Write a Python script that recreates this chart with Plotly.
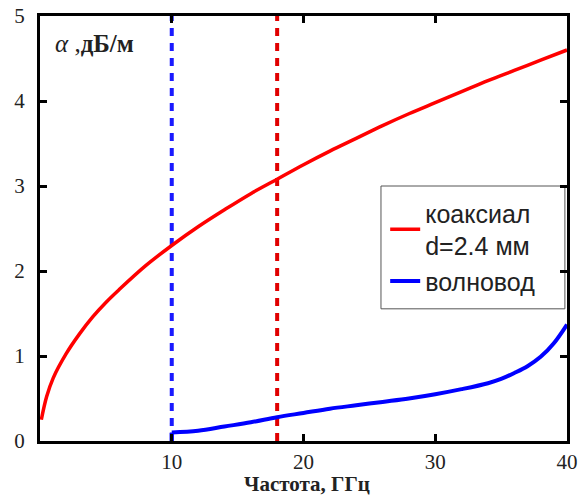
import plotly.graph_objects as go

# Coaxial line attenuation (red)
coax_f = [0.1, 0.5, 1, 2, 3, 4, 5, 6, 8, 10, 12, 14, 16, 18, 20, 22, 24, 26, 28, 30, 32, 34, 36, 38, 40]
coax_a = [0.25, 0.52, 0.74, 1.03, 1.26, 1.46, 1.63, 1.78, 2.06, 2.30, 2.52, 2.72, 2.91, 3.08, 3.25,
          3.41, 3.56, 3.71, 3.85, 3.98, 4.11, 4.24, 4.36, 4.48, 4.60]

# Waveguide attenuation (blue); first two points are the cutoff step at 10 GHz
wg_f = [10, 10, 12, 14, 16, 18, 20, 22, 24, 26, 28, 30, 32, 34, 35, 36, 37, 38, 39, 40]
wg_a = [0.0, 0.10, 0.12, 0.17, 0.22, 0.28, 0.33, 0.38, 0.42, 0.46, 0.50, 0.55, 0.61, 0.68,
        0.73, 0.80, 0.88, 0.99, 1.15, 1.37]

vlines = [10, 18]
vline_colors = ["#1a1aff", "#e00000"]
x_ticks = [10, 20, 30, 40]
y_ticks = [0, 1, 2, 3, 4, 5]

fig = go.Figure()
fig.add_trace(go.Scatter(x=coax_f, y=coax_a, mode="lines",
                         line=dict(color="#ff0000", width=3.5, shape="spline"),
                         name="коаксиал<br>d=2.4 мм"))
fig.add_trace(go.Scatter(x=wg_f[1:], y=wg_a[1:], mode="lines",
                         line=dict(color="#0000ff", width=4, shape="spline"),
                         name="волновод"))
fig.add_trace(go.Scatter(x=wg_f[:2], y=wg_a[:2], mode="lines",
                         line=dict(color="#0000ff", width=4), showlegend=False, hoverinfo="skip"))

for xv, c in zip(vlines, vline_colors):
    fig.add_shape(type="line", x0=xv, x1=xv, y0=0, y1=5, xref="x", yref="y",
                  line=dict(color=c, width=4, dash="8px,7px"), layer="below")

# legend frame
fig.add_shape(type="rect", xref="paper", yref="paper", x0=0.647, x1=0.996, y0=0.311, y1=0.6,
              line=dict(color="#555", width=1), fillcolor="white", layer="below")

axis_common = dict(showgrid=False, zeroline=False, showline=True, linecolor="black", linewidth=3,
                   mirror="ticks", ticks="inside", ticklen=7, tickwidth=3, tickcolor="black",
                   automargin=False,
                   tickfont=dict(family="Liberation Serif", size=21, color="#222"))

fig.update_xaxes(range=[0, 40], tickvals=x_ticks, ticktext=[str(v) for v in x_ticks],
                 ticklabelstandoff=0, **axis_common)
fig.update_yaxes(range=[0, 5], tickvals=y_ticks, ticktext=[str(v) for v in y_ticks],
                 ticklabelstandoff=8, **axis_common)

fig.add_annotation(x=0.507, y=-0.102, xref="paper", yref="paper", xanchor="center", yanchor="middle",
                   text="<b>Частота, ГГц</b>", showarrow=False,
                   font=dict(family="Liberation Serif", size=21, color="#222"))

fig.add_annotation(x=0.024, y=0.935, xref="paper", yref="paper", xanchor="left", yanchor="middle",
                   text="<i>α</i> ,<b>дБ/м</b>", showarrow=False,
                   font=dict(family="Liberation Serif", size=25, color="#222"))

fig.update_layout(
    width=582, height=495,
    margin=dict(l=40, r=15, t=16, b=54),
    plot_bgcolor="white", paper_bgcolor="white",
    legend=dict(x=0.655, y=0.59, xanchor="left", yanchor="top",
                bgcolor="rgba(0,0,0,0)", borderwidth=0,
                font=dict(family="Liberation Sans", size=25, color="#222"),
                tracegroupgap=0),
    showlegend=True,
)

fig.write_html("out.html")
